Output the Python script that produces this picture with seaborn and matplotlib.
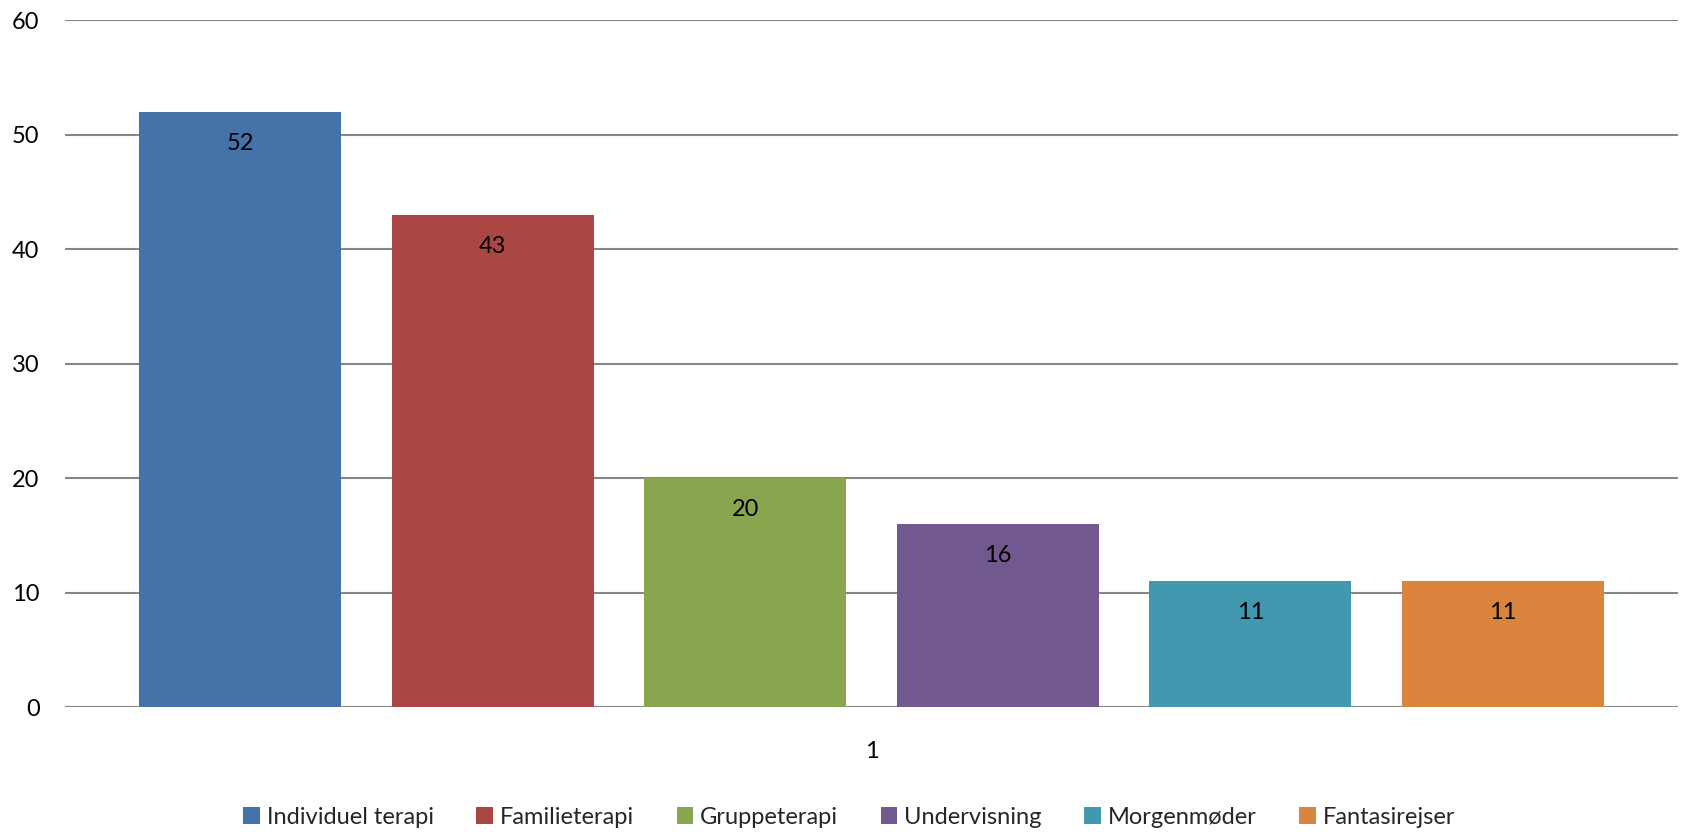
import numpy as np
import pandas as pd
import matplotlib.pyplot as plt
import seaborn as sns

# data
aktiviteter = ["Individuel terapi", "Familieterapi", "Gruppeterapi",
               "Undervisning", "Morgenmøder", "Fantasirejser"]
antal = [52, 43, 20, 16, 11, 11]
farver = ["#4572A7", "#AA4643", "#89A54E", "#71588F", "#4198AF", "#DB843D"]

df = pd.DataFrame({"aktivitet": aktiviteter, "antal": antal})

sns.set_theme(style="white")
plt.rcParams["font.family"] = ["Lato", "DejaVu Sans"]

fig = plt.figure(figsize=(16.85, 8.32), dpi=100)
ax = fig.add_axes([0.0383, 0.150, 0.9578, 0.8255])

sns.barplot(
    data=df,
    x="aktivitet",
    y="antal",
    hue="aktivitet",
    palette=farver,
    width=0.8,
    saturation=1,
    linewidth=0,
    legend=True,
    ax=ax
)

# value labels inside the top of each bar
for c in ax.containers:
    ax.bar_label(c, padding=-30, fontsize=17, color="black")

ax.set_ylim(0, 60)
ax.set_yticks(range(0, 61, 10))
ax.set_xlim(-0.695, 5.695)
ax.set_xticks([2.5])
ax.set_xticklabels(["1"])
ax.set_xlabel("")
ax.set_ylabel("")

ax.yaxis.grid(True, color="#878787", linewidth=1.5)
ax.set_axisbelow(True)
for s in ax.spines.values():
    s.set_visible(False)

ax.tick_params(axis="y", length=0, pad=18, labelsize=17, labelcolor="black")
ax.tick_params(axis="x", length=0, pad=24, labelsize=17, labelcolor="black")

sns.move_legend(
    ax,
    "center",
    bbox_to_anchor=(0.504, 0.018),
    bbox_transform=fig.transFigure,
    ncol=6,
    frameon=False,
    title=None,
    fontsize=17,
    handlelength=0.7,
    handleheight=0.7,
    handletextpad=0.3,
    columnspacing=1.8
)

plt.savefig("out.png", dpi=100)
